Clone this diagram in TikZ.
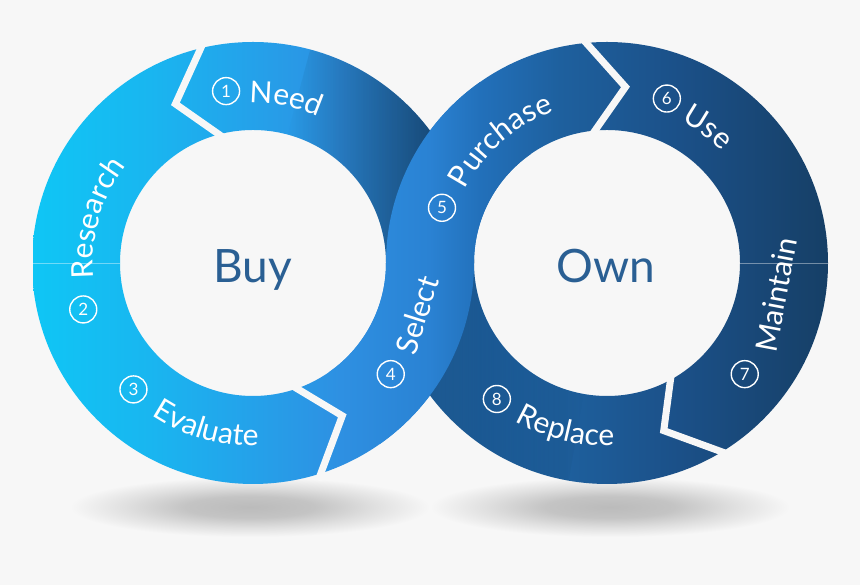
\documentclass[tikz,border=0pt]{standalone}
\usepackage{fontspec}
\setmainfont{Lato}
\usetikzlibrary{calc,decorations.text,fadings}

\definecolor{bg}{HTML}{F7F7F7}
\definecolor{shd}{HTML}{BBBBBB}
\definecolor{buyblue}{HTML}{2A5F93}
\definecolor{c0}{HTML}{0FC6F5}
\definecolor{c1}{HTML}{19B6F0}
\definecolor{c2}{HTML}{24A2EA}
\definecolor{c3}{HTML}{2E90E2}
\definecolor{c4}{HTML}{2A82D3}
\definecolor{c5}{HTML}{2270BA}
\definecolor{c6}{HTML}{1E609E}
\definecolor{c7}{HTML}{1B5088}
\definecolor{c8}{HTML}{163F66}

% colour along the whole band, left to right (25bp..75bp = x 33..829)
\pgfdeclarehorizontalshading{bandshade}{100bp}{color(0bp)=(c0); color(25bp)=(c0);
  color(32.3bp)=(c1); color(38.6bp)=(c2); color(44.3bp)=(c3); color(49.9bp)=(c4);
  color(53.1bp)=(c5); color(58.1bp)=(c6); color(65.6bp)=(c7); color(75bp)=(c8); color(100bp)=(c8)}
\pgfdeclareradialshading{floorshade}{\pgfpoint{0bp}{0bp}}{color(0bp)=(shd); color(9bp)=(shd!85!bg);
  color(17bp)=(shd!40!bg); color(25bp)=(bg); color(50bp)=(bg)}
\tikzfading[name=darkright, left color=transparent!100, middle color=transparent!100, right color=transparent!0]
\tikzfading[name=darkleft, left color=transparent!0, right color=transparent!100]

\newcommand\lbl{\fontsize{30}{36}\selectfont\color{white}}
\newcommand\ringout{221}
\newcommand\ringin{133}

\begin{document}
\begin{tikzpicture}[x=1pt, y=1pt,
    numcirc/.style={circle, draw=white, line width=1.4pt, minimum size=27pt, inner sep=0pt, text=white, font=\fontsize{17}{17}\selectfont},
    steptext/.style={inner sep=0pt, text=white, font=\fontsize{30}{36}\selectfont},
    centre/.style={anchor=base, text=buyblue, font=\fontsize{46}{46}\selectfont},
    gap/.style={draw=bg, line width=7pt, line join=miter},
    ringtext/.style={decorate, decoration={text along path, text align=center, text={|\lbl|#1}}}
]
    \useasboundingbox (0,0) rectangle (860,585);
    \fill[bg] (0,0) rectangle (860,585);

    \coordinate (L) at (253,322);
    \coordinate (R) at (607,322);

    % Floor shadows
    \shade[shading=floorshade] (250,78) ellipse [x radius=180, y radius=30];
    \shade[shading=floorshade] (610,78) ellipse [x radius=180, y radius=30];

    % Both rings
    \begin{scope}
        \clip ($(L)+(0:\ringout)$) arc[start angle=0, end angle=360, radius=\ringout]
              ($(L)+(0:\ringin)$) arc[start angle=360, end angle=0, radius=\ringin]
              ($(R)+(0:\ringout)$) arc[start angle=0, end angle=360, radius=\ringout]
              ($(R)+(0:\ringin)$) arc[start angle=360, end angle=0, radius=\ringin];
        \shade[shading=bandshade] (33,0) rectangle (829,585);
    \end{scope}

    % Back parts darken towards the crossing
    \fill[black, fill opacity=0.55, path fading=darkright]
        ($(L)+(0:\ringout)$) arc[start angle=0, end angle=75, radius=\ringout]
        -- ($(L)+(75:\ringin)$) arc[start angle=75, end angle=0, radius=\ringin] -- cycle;
    \fill[black, fill opacity=0.4, path fading=darkleft]
        ($(R)+(180:\ringout)$) arc[start angle=180, end angle=260, radius=\ringout]
        -- ($(R)+(260:\ringin)$) arc[start angle=260, end angle=180, radius=\ringin] -- cycle;

    % Front band: Select into Purchase
    \begin{scope}
        \clip ($(L)+(-55:\ringout)$) arc[start angle=-55, end angle=0, radius=\ringout]
              -- ($(L)+(0:\ringin)$) arc[start angle=0, end angle=-55, radius=\ringin] -- cycle
              ($(R)+(125:\ringout)$) arc[start angle=125, end angle=180, radius=\ringout]
              -- ($(R)+(180:\ringin)$) arc[start angle=180, end angle=125, radius=\ringin] -- cycle;
        \shade[shading=bandshade] (33,0) rectangle (829,585);
    \end{scope}

    % Faint seams
    \draw[white, opacity=0.4, line width=0.8pt] ($(L)+(180:\ringout)$) -- ($(L)+(180:\ringin)$);
    \draw[white, opacity=0.4, line width=0.8pt] ($(R)+(0:\ringin)$) -- ($(R)+(0:\ringout)$);

    % Chevron gaps between steps
    \draw[gap] ($(L)+(102.5:227)$) -- ($(L)+(116:177)$) -- ($(L)+(102.5:127)$);
    \draw[gap] ($(L)+(-73.3:227)$) -- ($(L)+(-59.7:177)$) -- ($(L)+(-73:127)$);
    \draw[gap] ($(R)+(96.5:227)$) -- ($(R)+(84:177)$) -- ($(R)+(97.5:127)$);
    \draw[gap] ($(R)+(-57.5:227)$) -- ($(R)+(-71.3:177)$) -- ($(R)+(-59.5:127)$);

    % Step numbers
    \node[numcirc] (n1) at ($(L)+(98.9:174)$) {1};
    \node[numcirc] (n2) at ($(L)+(195.3:176)$) {2};
    \node[numcirc] (n3) at ($(L)+(226.6:174)$) {3};
    \node[numcirc] (n4) at ($(L)+(-38.9:177)$) {4};
    \node[numcirc] (n5) at ($(R)+(161.5:174)$) {5};
    \node[numcirc] (n6) at ($(R)+(70:175)$) {6};
    \node[numcirc] (n7) at ($(R)+(-38.9:177)$) {7};
    \node[numcirc] (n8) at ($(R)+(231:175)$) {8};

    % Step names along the rings
    \path[ringtext=Need] ($(L)+(123.6:160)$) arc[start angle=123.6, end angle=33.6, radius=160];
    \path[ringtext=Research] ($(L)+(214:160)$) arc[start angle=214, end angle=114, radius=160];
    \path[ringtext=Evaluate] ($(L)+(209:183)$) arc[start angle=209, end angle=299, radius=183];
    \node[steptext, rotate=72.4] (select) at ($(L)+(-17.6:172)$) {Select};
    \path[ringtext=Purchase] ($(R)+(181:160)$) arc[start angle=181, end angle=81, radius=160];
    \path[ringtext=Use] ($(R)+(98.3:160)$) arc[start angle=98.3, end angle=8.3, radius=160];
    \node[steptext, rotate=79.4] (maintain) at ($(R)+(-10.6:172)$) {Maintain};
    \path[ringtext=Replace] ($(R)+(211:183)$) arc[start angle=211, end angle=301, radius=183];

    % Centres
    \node[centre] (buy) at ($(L)+(0,-20)$) {Buy};
    \node[centre] (own) at ($(R)+(-1,-20)$) {Own};
\end{tikzpicture}
\end{document}
